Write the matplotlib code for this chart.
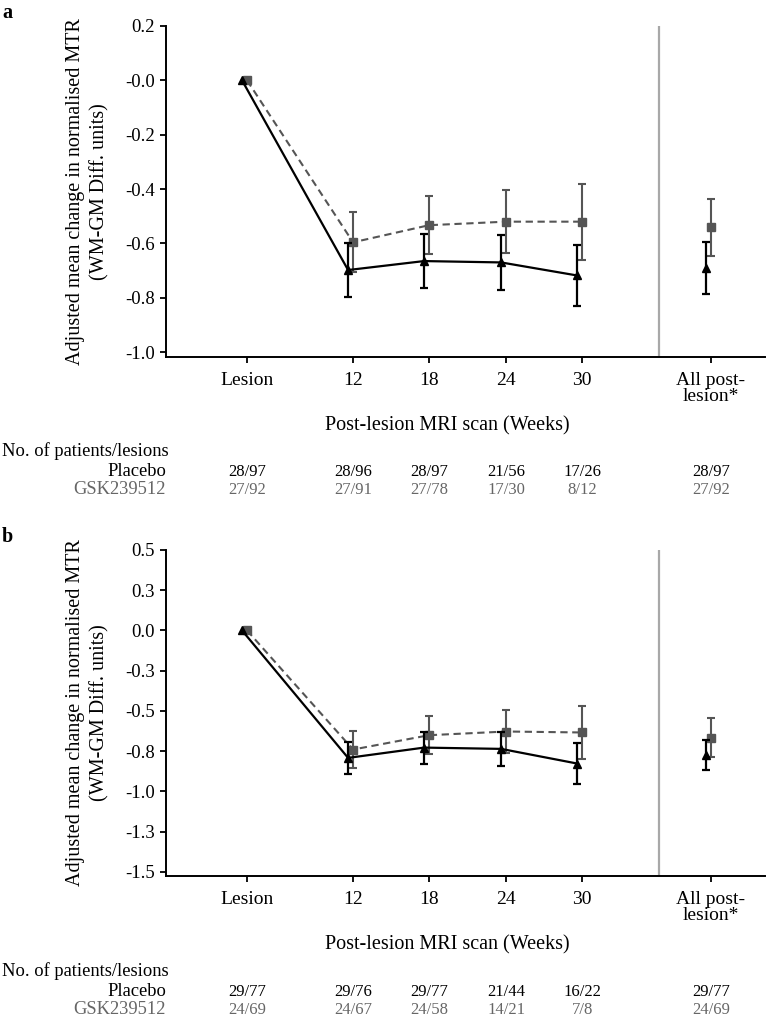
import matplotlib
matplotlib.use('Agg')
import matplotlib.pyplot as plt
from matplotlib.transforms import blended_transform_factory

plt.rcParams['font.family'] = ['Liberation Serif', 'DejaVu Serif']

# ---------------- data ----------------
categories = ['Lesion', '12', '18', '24', '30']
overall_label = 'All post-\nlesion*'
row_labels = ['Placebo', 'GSK239512']

# Panel a
a_placebo_mean = [0.0, -0.698, -0.665, -0.670, -0.718]
a_placebo_err = [0.098, 0.098, 0.102, 0.112]          # weeks 12..30
a_placebo_all_mean = -0.690
a_placebo_all_err = 0.095
a_gsk_mean = [0.0, -0.596, -0.533, -0.520, -0.520]
a_gsk_err = [0.110, 0.106, 0.115, 0.140]              # weeks 12..30
a_gsk_all_mean = -0.541
a_gsk_all_err = 0.105
a_placebo_n = ['28/97', '28/96', '28/97', '21/56', '17/26', '28/97']
a_gsk_n = ['27/92', '27/91', '27/78', '17/30', '8/12', '27/92']
a_yticks = [0.2, 0.0, -0.2, -0.4, -0.6, -0.8, -1.0]
a_yticklabels = ['0.2', '-0.0', '-0.2', '-0.4', '-0.6', '-0.8', '-1.0']

# Panel b
b_placebo_mean = [0.0, -0.792, -0.728, -0.736, -0.827]
b_placebo_err = [0.100, 0.100, 0.105, 0.127]
b_placebo_all_mean = -0.775
b_placebo_all_err = 0.095
b_gsk_mean = [0.0, -0.740, -0.651, -0.628, -0.634]
b_gsk_err = [0.117, 0.119, 0.133, 0.165]
b_gsk_all_mean = -0.666
b_gsk_all_err = 0.120
b_placebo_n = ['29/77', '29/76', '29/77', '21/44', '16/22', '29/77']
b_gsk_n = ['24/69', '24/67', '24/58', '14/21', '7/8', '24/69']
b_yticks = [0.5, 0.25, 0.0, -0.25, -0.5, -0.75, -1.0, -1.25, -1.5]
b_yticklabels = ['0.5', '0.3', '0.0', '-0.3', '-0.5', '-0.8', '-1.0', '-1.3', '-1.5']

# ---------------- layout ----------------
W, H = 767, 1030
fig = plt.figure(figsize=(W / 100, H / 100), dpi=100)

x_pos = [0.0, 1.386, 2.379, 3.386, 4.379]
x_div = 5.386
x_all = 6.065
offset = -0.065
XLIM = (-1.059, 6.77)

GREY = '#555555'
BLACK = '#000000'
TEXTGREY = '#666666'


def fy(ypx):
    return 1 - ypx / H


def panel(top_px, bottom_px, ylim, yticks, yticklabels,
          p_mean, p_err, p_all, p_all_err,
          g_mean, g_err, g_all, g_all_err,
          p_n, g_n, letter, text_y):
    left_px, right_px = 166, 765
    ax = fig.add_axes([left_px / W, fy(bottom_px), (right_px - left_px) / W,
                       (bottom_px - top_px) / H])
    xp = [x + offset for x in x_pos]
    # GSK (grey dashed squares)
    ax.plot(x_pos, g_mean, color=GREY, ls=(0, (3.5, 2.2)), lw=1.5,
            marker='s', ms=5.4, mfc=GREY, mec=GREY, zorder=2)
    ax.errorbar(x_pos[1:], g_mean[1:], yerr=g_err, fmt='none', ecolor=GREY,
                elinewidth=1.5, capsize=2.6, capthick=1.5, zorder=2)
    ax.errorbar([x_all], [g_all], yerr=[g_all_err], fmt='s', color=GREY,
                ms=5.4, ecolor=GREY, elinewidth=1.5, capsize=2.6,
                capthick=1.5, zorder=2)
    # Placebo (black solid triangles)
    ax.plot(xp, p_mean, color=BLACK, ls='-', lw=1.6,
            marker='^', ms=5.6, mfc=BLACK, mec=BLACK, zorder=3)
    ax.errorbar(xp[1:], p_mean[1:], yerr=p_err, fmt='none', ecolor=BLACK,
                elinewidth=1.6, capsize=2.6, capthick=1.6, zorder=3)
    ax.errorbar([x_all + offset], [p_all], yerr=[p_all_err], fmt='^',
                color=BLACK, ms=5.6, ecolor=BLACK, elinewidth=1.6,
                capsize=2.6, capthick=1.6, zorder=3)

    ax.axvline(x_div, color='#a8a8a8', lw=1.6, zorder=1)

    ax.set_xlim(*XLIM)
    ax.set_ylim(*ylim)
    ax.set_xticks(x_pos + [x_all])
    ax.set_xticklabels(categories + [overall_label], fontsize=14,
                       linespacing=0.92)
    ax.set_yticks(yticks)
    ax.set_yticklabels(yticklabels, fontsize=13.5)
    for s in ['top', 'right']:
        ax.spines[s].set_visible(False)
    for s in ['left', 'bottom']:
        ax.spines[s].set_linewidth(1.4)
    ax.tick_params(axis='x', length=4, width=1.3, pad=6.5)
    ax.tick_params(axis='y', length=4, width=1.3, pad=4)

    # y label
    fig.text(88 / W, fy((top_px + bottom_px) / 2),
             'Adjusted mean change in normalised MTR\n(WM-GM Diff. units)',
             rotation=90, ha='center', va='center', fontsize=14.5,
             multialignment='center', linespacing=1.35)
    # panel letter
    fig.text(2 / W, fy(top_px - 13), letter, fontsize=14.5,
             fontweight='bold', ha='left', va='center')
    # x label
    fig.text(447 / W, fy(text_y[0]), 'Post-lesion MRI scan (Weeks)',
             fontsize=14.5, ha='center', va='center')
    fig.text(2 / W, fy(text_y[1]), 'No. of patients/lesions', fontsize=13.3,
             ha='left', va='center')
    fig.text(166 / W, fy(text_y[2]), row_labels[0], fontsize=13.3,
             ha='right', va='center', color=BLACK)
    fig.text(166 / W, fy(text_y[3]), row_labels[1], fontsize=13.3,
             ha='right', va='center', color=TEXTGREY)
    tr = blended_transform_factory(ax.transData, fig.transFigure)
    for x, s in zip(x_pos + [x_all], p_n):
        ax.text(x, fy(text_y[2]), s, transform=tr, fontsize=12,
                ha='center', va='center', color=BLACK)
    for x, s in zip(x_pos + [x_all], g_n):
        ax.text(x, fy(text_y[3]), s, transform=tr, fontsize=12,
                ha='center', va='center', color=TEXTGREY)
    return ax


panel(26, 357, (-1.018, 0.2), a_yticks, a_yticklabels,
      a_placebo_mean, a_placebo_err, a_placebo_all_mean, a_placebo_all_err,
      a_gsk_mean, a_gsk_err, a_gsk_all_mean, a_gsk_all_err,
      a_placebo_n, a_gsk_n, 'a', (426, 451, 472, 490))

panel(550, 876, (-1.526, 0.5), b_yticks, b_yticklabels,
      b_placebo_mean, b_placebo_err, b_placebo_all_mean, b_placebo_all_err,
      b_gsk_mean, b_gsk_err, b_gsk_all_mean, b_gsk_all_err,
      b_placebo_n, b_gsk_n, 'b', (945, 971, 992, 1010))

fig.savefig('out.png', dpi=100)
